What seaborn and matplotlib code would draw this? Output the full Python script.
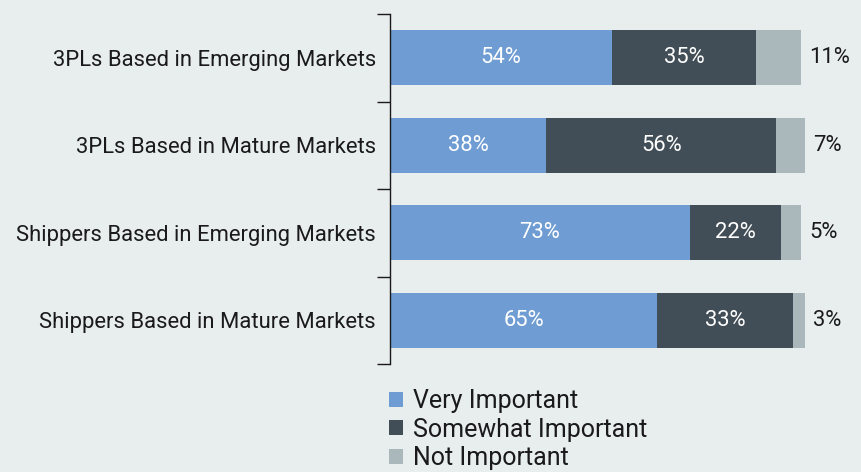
import matplotlib
matplotlib.use("Agg")
import matplotlib.pyplot as plt
import seaborn as sns
import pandas as pd
import numpy as np
from matplotlib.patches import Patch

categories = ["3PLs Based in Emerging Markets", "3PLs Based in Mature Markets",
              "Shippers Based in Emerging Markets", "Shippers Based in Mature Markets"]
very = [54, 38, 73, 65]
somewhat = [35, 56, 22, 33]
notimp = [11, 7, 5, 3]
series_names = ["Very Important", "Somewhat Important", "Not Important"]
colors = ["#6f9dd3", "#424e57", "#aab8bb"]
bg = "#e8edee"

sns.set_theme(style="white")
plt.rcParams['font.family'] = ['Roboto', 'DejaVu Sans']

df = pd.DataFrame({"cat": categories, "very": very, "somewhat": somewhat, "notimp": notimp})
df["c1"] = df["very"]
df["c2"] = df["very"] + df["somewhat"]
df["c3"] = df["c2"] + df["notimp"]

fig = plt.figure(figsize=(8.62, 4.72), dpi=100, facecolor=bg)
pxu = 222 / 54.0
ax = fig.add_axes([390/862, 1-364/472, 102*pxu/862, 350/472])
ax.set_facecolor(bg)

w = 0.63
sns.barplot(data=df, y="cat", x="c3", color=colors[2], orient="h", width=w, ax=ax, saturation=1)
sns.barplot(data=df, y="cat", x="c2", color=colors[1], orient="h", width=w, ax=ax, saturation=1)
sns.barplot(data=df, y="cat", x="c1", color=colors[0], orient="h", width=w, ax=ax, saturation=1)
for p in ax.patches:
    p.set_linewidth(0)

fs = 15.8
for i, r in df.iterrows():
    ax.text(r["very"] / 2, i, f"{r['very']}%", color="white", ha="center", va="center", fontsize=fs)
    ax.text(r["very"] + r["somewhat"] / 2, i, f"{r['somewhat']}%", color="white", ha="center", va="center", fontsize=fs)
    ax.text(r["c3"] + 2, i, f"{r['notimp']}%", color="#1a1a1a", ha="left", va="center", fontsize=fs)

ax.set_xlim(0, 102)
ax.set_ylim(3.5, -0.5)
ax.set_xlabel("")
ax.set_ylabel("")
ax.set_xticks([])
for s in ["top", "right", "bottom"]:
    ax.spines[s].set_visible(False)
ax.spines["left"].set_color("#1a1a1a")
ax.spines["left"].set_linewidth(1.0)
ax.tick_params(axis="y", which="major", length=0, pad=10, labelsize=fs, labelcolor="#1a1a1a")
ax.set_yticks(np.arange(-0.5, 4, 1), minor=True)
ax.tick_params(axis="y", which="minor", length=9.5, width=1.0, color="#1a1a1a", left=True)

handles = [Patch(facecolor=c, edgecolor="none", label=n) for c, n in zip(colors, series_names)]
fig.legend(handles=handles, loc="upper left", bbox_to_anchor=(389/862, 1-389/472), frameon=False,
           fontsize=18, handlelength=0.55, handleheight=0.55, handletextpad=0.4, labelspacing=0.18,
           borderaxespad=0, borderpad=0, labelcolor="#1a1a1a")

fig.savefig("out.png", dpi=100, facecolor=bg)
